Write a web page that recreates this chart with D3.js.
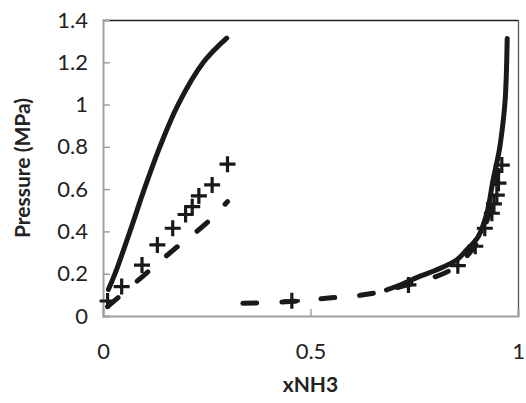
<!DOCTYPE html>
<html><head><meta charset="utf-8">
<script src="https://cdn.jsdelivr.net/npm/d3@7"></script>
<style>body{margin:0;background:#fff;} svg{display:block;}</style>
</head><body>
<script>
// Data (xNH3, Pressure MPa)
const solidLeftX  = [0.013, 0.029, 0.065, 0.0995, 0.137, 0.181, 0.242, 0.298];
const solidLeftY  = [0.125, 0.20, 0.40, 0.60, 0.80, 1.00, 1.20, 1.314];
const solidRightX = [0.683, 0.72, 0.76, 0.80, 0.852, 0.876, 0.904, 0.925, 0.94, 0.955, 0.963, 0.969, 0.972, 0.974];
const solidRightY = [0.123, 0.15, 0.185, 0.215, 0.265, 0.312, 0.375, 0.486, 0.643, 0.785, 0.90, 1.02, 1.15, 1.313];
const dashLeftX   = [0.011, 0.10, 0.17, 0.25, 0.30];
const dashLeftY   = [0.044, 0.195, 0.313, 0.44, 0.541];
const dashRightX  = [0.337, 0.45, 0.55, 0.62, 0.67, 0.72, 0.78, 0.84, 0.88, 0.91, 0.93, 0.945, 0.955];
const dashRightY  = [0.060, 0.068, 0.086, 0.098, 0.115, 0.14, 0.172, 0.22, 0.29, 0.38, 0.48, 0.60, 0.72];
const plusX = [0.011, 0.045, 0.094, 0.131, 0.168, 0.199, 0.215, 0.231, 0.263, 0.300,
               0.455, 0.736, 0.855, 0.897, 0.92, 0.937, 0.942, 0.949, 0.953, 0.961];
const plusY = [0.071, 0.139, 0.241, 0.336, 0.415, 0.480, 0.517, 0.568, 0.620, 0.718,
               0.072, 0.147, 0.238, 0.33, 0.415, 0.486, 0.530, 0.572, 0.628, 0.714];
const xTicks = [0, 0.5, 1];
const yTicks = [0, 0.2, 0.4, 0.6, 0.8, 1, 1.2, 1.4];

const W = 526, H = 403;
const L = 103, R = 518, T = 20, B = 316;
const font = "Lato, 'Open Sans', sans-serif";

const svg = d3.select("body").append("svg").attr("width", W).attr("height", H);
const x = d3.scaleLinear().domain([0, 1]).range([L, R]);
const y = d3.scaleLinear().domain([0, 1.4]).range([B, T]);

// plot border (top/right)
svg.append("line").attr("x1", L).attr("x2", R).attr("y1", T + 0.5).attr("y2", T + 0.5)
  .attr("stroke", "#222").attr("stroke-width", 1.3);
svg.append("line").attr("x1", R + 0.5).attr("x2", R + 0.5).attr("y1", T).attr("y2", B)
  .attr("stroke", "#555").attr("stroke-width", 1.3);

const fmt = d => String(+d.toFixed(1));

const yAxis = svg.append("g").attr("transform", `translate(${L},0)`)
  .call(d3.axisLeft(y).tickValues(yTicks).tickSize(-7).tickPadding(15).tickFormat(fmt));
const xAxis = svg.append("g").attr("transform", `translate(0,${B})`)
  .call(d3.axisBottom(x).tickValues(xTicks).tickSize(-7).tickPadding(27).tickFormat(fmt));
[yAxis, xAxis].forEach(g => {
  g.select(".domain").attr("stroke", "#a0a0a0").attr("stroke-width", 2);
  g.selectAll(".tick line").attr("stroke", "#a0a0a0").attr("stroke-width", 1.5);
  g.selectAll(".tick text").attr("font-family", font).attr("font-size", 22).attr("fill", "#222");
});

const zip = (a, b) => a.map((v, i) => [v, b[i]]);
const lineY = d3.line().x(d => x(d[0])).y(d => y(d[1])).curve(d3.curveCatmullRom);

const g = svg.append("g");
g.append("path").datum(zip(solidLeftX, solidLeftY)).attr("d", lineY)
  .attr("fill", "none").attr("stroke", "#1a1a1a").attr("stroke-width", 5).attr("stroke-linecap", "round");
g.append("path").datum(zip(solidRightX, solidRightY)).attr("d", lineY)
  .attr("fill", "none").attr("stroke", "#1a1a1a").attr("stroke-width", 5).attr("stroke-linecap", "round");
[zip(dashLeftX, dashLeftY), zip(dashRightX, dashRightY)].forEach(d => {
  g.append("path").datum(d).attr("d", lineY)
    .attr("fill", "none").attr("stroke", "#1a1a1a").attr("stroke-width", 5)
    .attr("stroke-linecap", "round").attr("stroke-dasharray", "14,25");
});

const s = 8;
g.selectAll("path.plus").data(zip(plusX, plusY)).join("path").attr("class", "plus")
  .attr("d", d => `M${x(d[0]) - s},${y(d[1])}h${2 * s}M${x(d[0])},${y(d[1]) - s}v${2 * s}`)
  .attr("stroke", "#1a1a1a").attr("stroke-width", 3.2).attr("fill", "none");

svg.append("text").attr("x", (L + R) / 2).attr("y", 392).attr("text-anchor", "middle")
  .attr("font-family", font).attr("font-weight", "bold").attr("font-size", 21).attr("fill", "#222")
  .text("xNH3");
svg.append("text").attr("transform", `translate(30,${(T + B) / 2}) rotate(-90)`).attr("text-anchor", "middle")
  .attr("font-family", font).attr("font-weight", "bold").attr("font-size", 21).attr("fill", "#222")
  .text("Pressure (MPa)");
</script>
</body></html>
